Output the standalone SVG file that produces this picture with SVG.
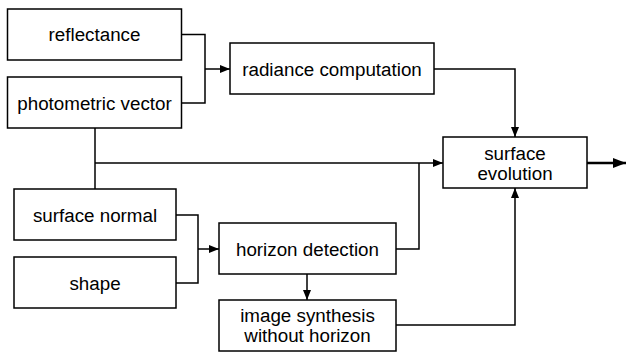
<svg xmlns="http://www.w3.org/2000/svg" width="626" height="353" viewBox="0 0 626 353">
<style>
.box{fill:#fff;stroke:#000;stroke-width:1.5}
.lbl{font-family:"Liberation Sans",Arial,sans-serif;font-size:18.8px;fill:#000;text-anchor:middle}
.ln{fill:none;stroke:#000;stroke-width:1.5}
</style>
<defs>
<marker id="ah" markerWidth="10" markerHeight="8" refX="10" refY="4" orient="auto" markerUnits="userSpaceOnUse">
<path d="M0,0 L10,4 L0,8 Z" fill="#000"/>
</marker>
<marker id="ahb" markerWidth="13" markerHeight="10" refX="13" refY="5" orient="auto" markerUnits="userSpaceOnUse">
<path d="M0,0 L13,5 L0,10 Z" fill="#000"/>
</marker>
</defs>
<rect width="626" height="353" fill="#fff"/>
<g id="connectors">
<path class="ln" d="M181.5,34.5 H205 V103 H181.5"/>
<path class="ln" d="M205,69 H230" marker-end="url(#ah)"/>
<path class="ln" d="M95,128 V189"/>
<path class="ln" d="M95,163 H443" marker-end="url(#ah)"/>
<path class="ln" d="M434,69 H515 V137" marker-end="url(#ah)"/>
<path class="ln" d="M396,249 H419 V163"/>
<path class="ln" d="M176,215 H198 V283 H176"/>
<path class="ln" d="M198,249 H219" marker-end="url(#ah)"/>
<path class="ln" d="M307,274 V300" marker-end="url(#ah)"/>
<path class="ln" d="M396,325 H515 V188" marker-end="url(#ah)"/>
<path d="M587,163 H626" fill="none" stroke="#000" stroke-width="2.5" marker-end="url(#ahb)"/>
</g>
<g id="reflectance"><rect class="box" x="7.5" y="9" width="174" height="51"/><text class="lbl" x="94.5" y="41">reflectance</text></g>
<g id="photometric"><rect class="box" x="7.5" y="77" width="174" height="51"/><text class="lbl" x="94.5" y="109.5">photometric vector</text></g>
<g id="radiance"><rect class="box" x="230" y="43" width="204" height="51"/><text class="lbl" x="332" y="75.5">radiance computation</text></g>
<g id="surface_evolution"><rect class="box" x="443" y="137" width="144" height="51"/><text class="lbl" x="515" y="160">surface</text><text class="lbl" x="515" y="179.5">evolution</text></g>
<g id="surface_normal"><rect class="box" x="14" y="189" width="162" height="51"/><text class="lbl" x="95" y="221.5">surface normal</text></g>
<g id="shape"><rect class="box" x="14" y="257" width="162" height="51"/><text class="lbl" x="95" y="289.5">shape</text></g>
<g id="horizon"><rect class="box" x="219" y="223" width="177" height="51"/><text class="lbl" x="307.5" y="255.5">horizon detection</text></g>
<g id="synthesis"><rect class="box" x="219" y="300" width="177" height="51"/><text class="lbl" x="307.5" y="322">image synthesis</text><text class="lbl" x="307.5" y="341.5">without horizon</text></g>
</svg>
